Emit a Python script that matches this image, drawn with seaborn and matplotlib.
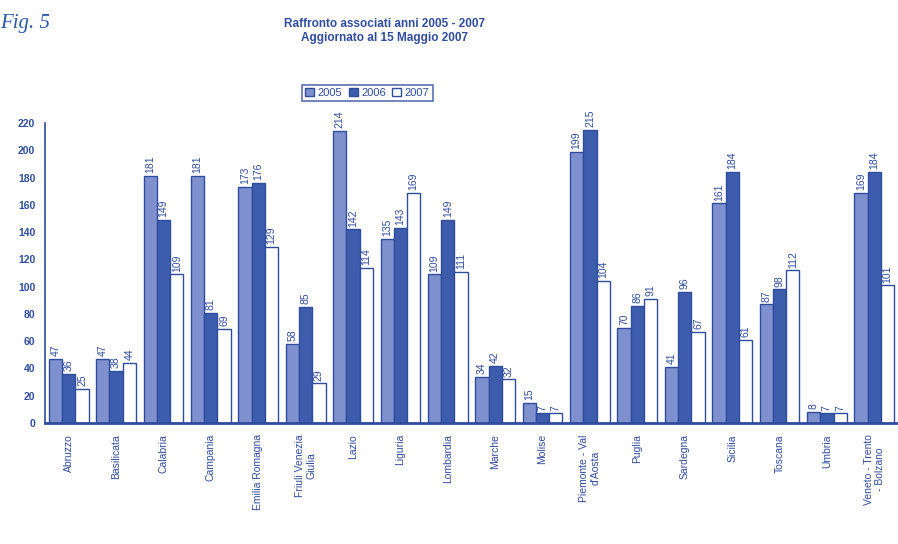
import matplotlib
matplotlib.use("Agg")
import matplotlib.pyplot as plt
import seaborn as sns
import pandas as pd
from matplotlib.ticker import FixedLocator, NullFormatter

regioni = ["Abruzzo", "Basilicata", "Calabria", "Campania", "Emilia Romagna",
           "Friuli Venezia\nGiulia", "Lazio", "Liguria", "Lombardia", "Marche",
           "Molise", "Piemonte - Val\nd'Aosta", "Puglia", "Sardegna", "Sicilia",
           "Toscana", "Umbria", "Veneto - Trento\n- Bolzano"]
anni = ["2005", "2006", "2007"]
soci_2005 = [47, 47, 181, 181, 173, 58, 214, 135, 109, 34, 15, 199, 70, 41, 161, 87, 8, 169]
soci_2006 = [36, 38, 149, 81, 176, 85, 142, 143, 149, 42, 7, 215, 86, 96, 184, 98, 7, 184]
soci_2007 = [25, 44, 109, 69, 129, 29, 114, 169, 111, 32, 7, 104, 91, 67, 61, 112, 7, 101]

df = pd.DataFrame({
    "Regione": regioni * 3,
    "Anno": [a for a in anni for _ in regioni],
    "Associati": soci_2005 + soci_2006 + soci_2007,
})

BLU = "#2f4d9e"
palette = {"2005": "#7f90cf", "2006": "#3e5cac", "2007": "#ffffff"}

sns.set_style("white")
plt.rcParams["font.family"] = ["Liberation Sans", "DejaVu Sans"]

fig = plt.figure(figsize=(8.98, 5.44), dpi=100)
ax = fig.add_axes([0.0501, 0.2224, 0.9499, 0.5515])

sns.barplot(data=df, x="Regione", y="Associati", hue="Anno", order=regioni,
            hue_order=anni, palette=palette, saturation=1, width=0.84,
            edgecolor=BLU, linewidth=1.0, ax=ax, legend=True)

for cont in ax.containers:
    lbls = ax.bar_label(cont, rotation=90, padding=2, fontsize=7.5, color=BLU)
    for t in lbls:
        t.set_clip_on(False)

ax.set_ylim(0, 220)
ax.set_xlim(-0.5, len(regioni) - 0.5)
ax.set_yticks(range(0, 221, 20))
ax.set_xlabel("")
ax.set_ylabel("")

for s in ["top", "right"]:
    ax.spines[s].set_visible(False)
ax.spines["left"].set_color(BLU)
ax.spines["left"].set_linewidth(1.2)
ax.spines["bottom"].set_color(BLU)
ax.spines["bottom"].set_linewidth(2.0)

ax.tick_params(axis="y", colors=BLU, labelsize=7.5, length=4, width=1, direction="out", pad=3)
for t in ax.get_yticklabels():
    t.set_fontweight("bold")
ax.tick_params(axis="x", which="major", length=0, labelsize=7.5, labelcolor=BLU, pad=8)
ax.xaxis.set_minor_locator(FixedLocator([i - 0.5 for i in range(len(regioni) + 1)]))
ax.xaxis.set_minor_formatter(NullFormatter())
ax.tick_params(axis="x", which="minor", length=4, width=1, color=BLU, direction="out")
plt.setp(ax.get_xticklabels(), rotation=90, ha="center", va="top", multialignment="center")

leg = ax.legend(loc="center", bbox_to_anchor=(0.409, 0.829), bbox_transform=fig.transFigure,
                ncol=3, frameon=True, fontsize=8, handlelength=0.8, handleheight=0.8,
                handletextpad=0.3, columnspacing=0.6, borderpad=0.3, fancybox=False)
leg.get_frame().set_edgecolor(BLU)
leg.get_frame().set_linewidth(1.2)
for t in leg.get_texts():
    t.set_color(BLU)

fig.text(0.428, 0.967, "Raffronto associati anni 2005 - 2007\nAggiornato al 15 Maggio 2007",
         ha="center", va="top", fontsize=8.5, fontweight="bold", color=BLU,
         linespacing=1.25)
fig.text(0.0, 0.975, "Fig. 5", ha="left", va="top", fontsize=15, fontstyle="italic",
         family=["Liberation Serif", "DejaVu Serif"], color="#2a5aa8")

fig.savefig("out.png", dpi=100)
